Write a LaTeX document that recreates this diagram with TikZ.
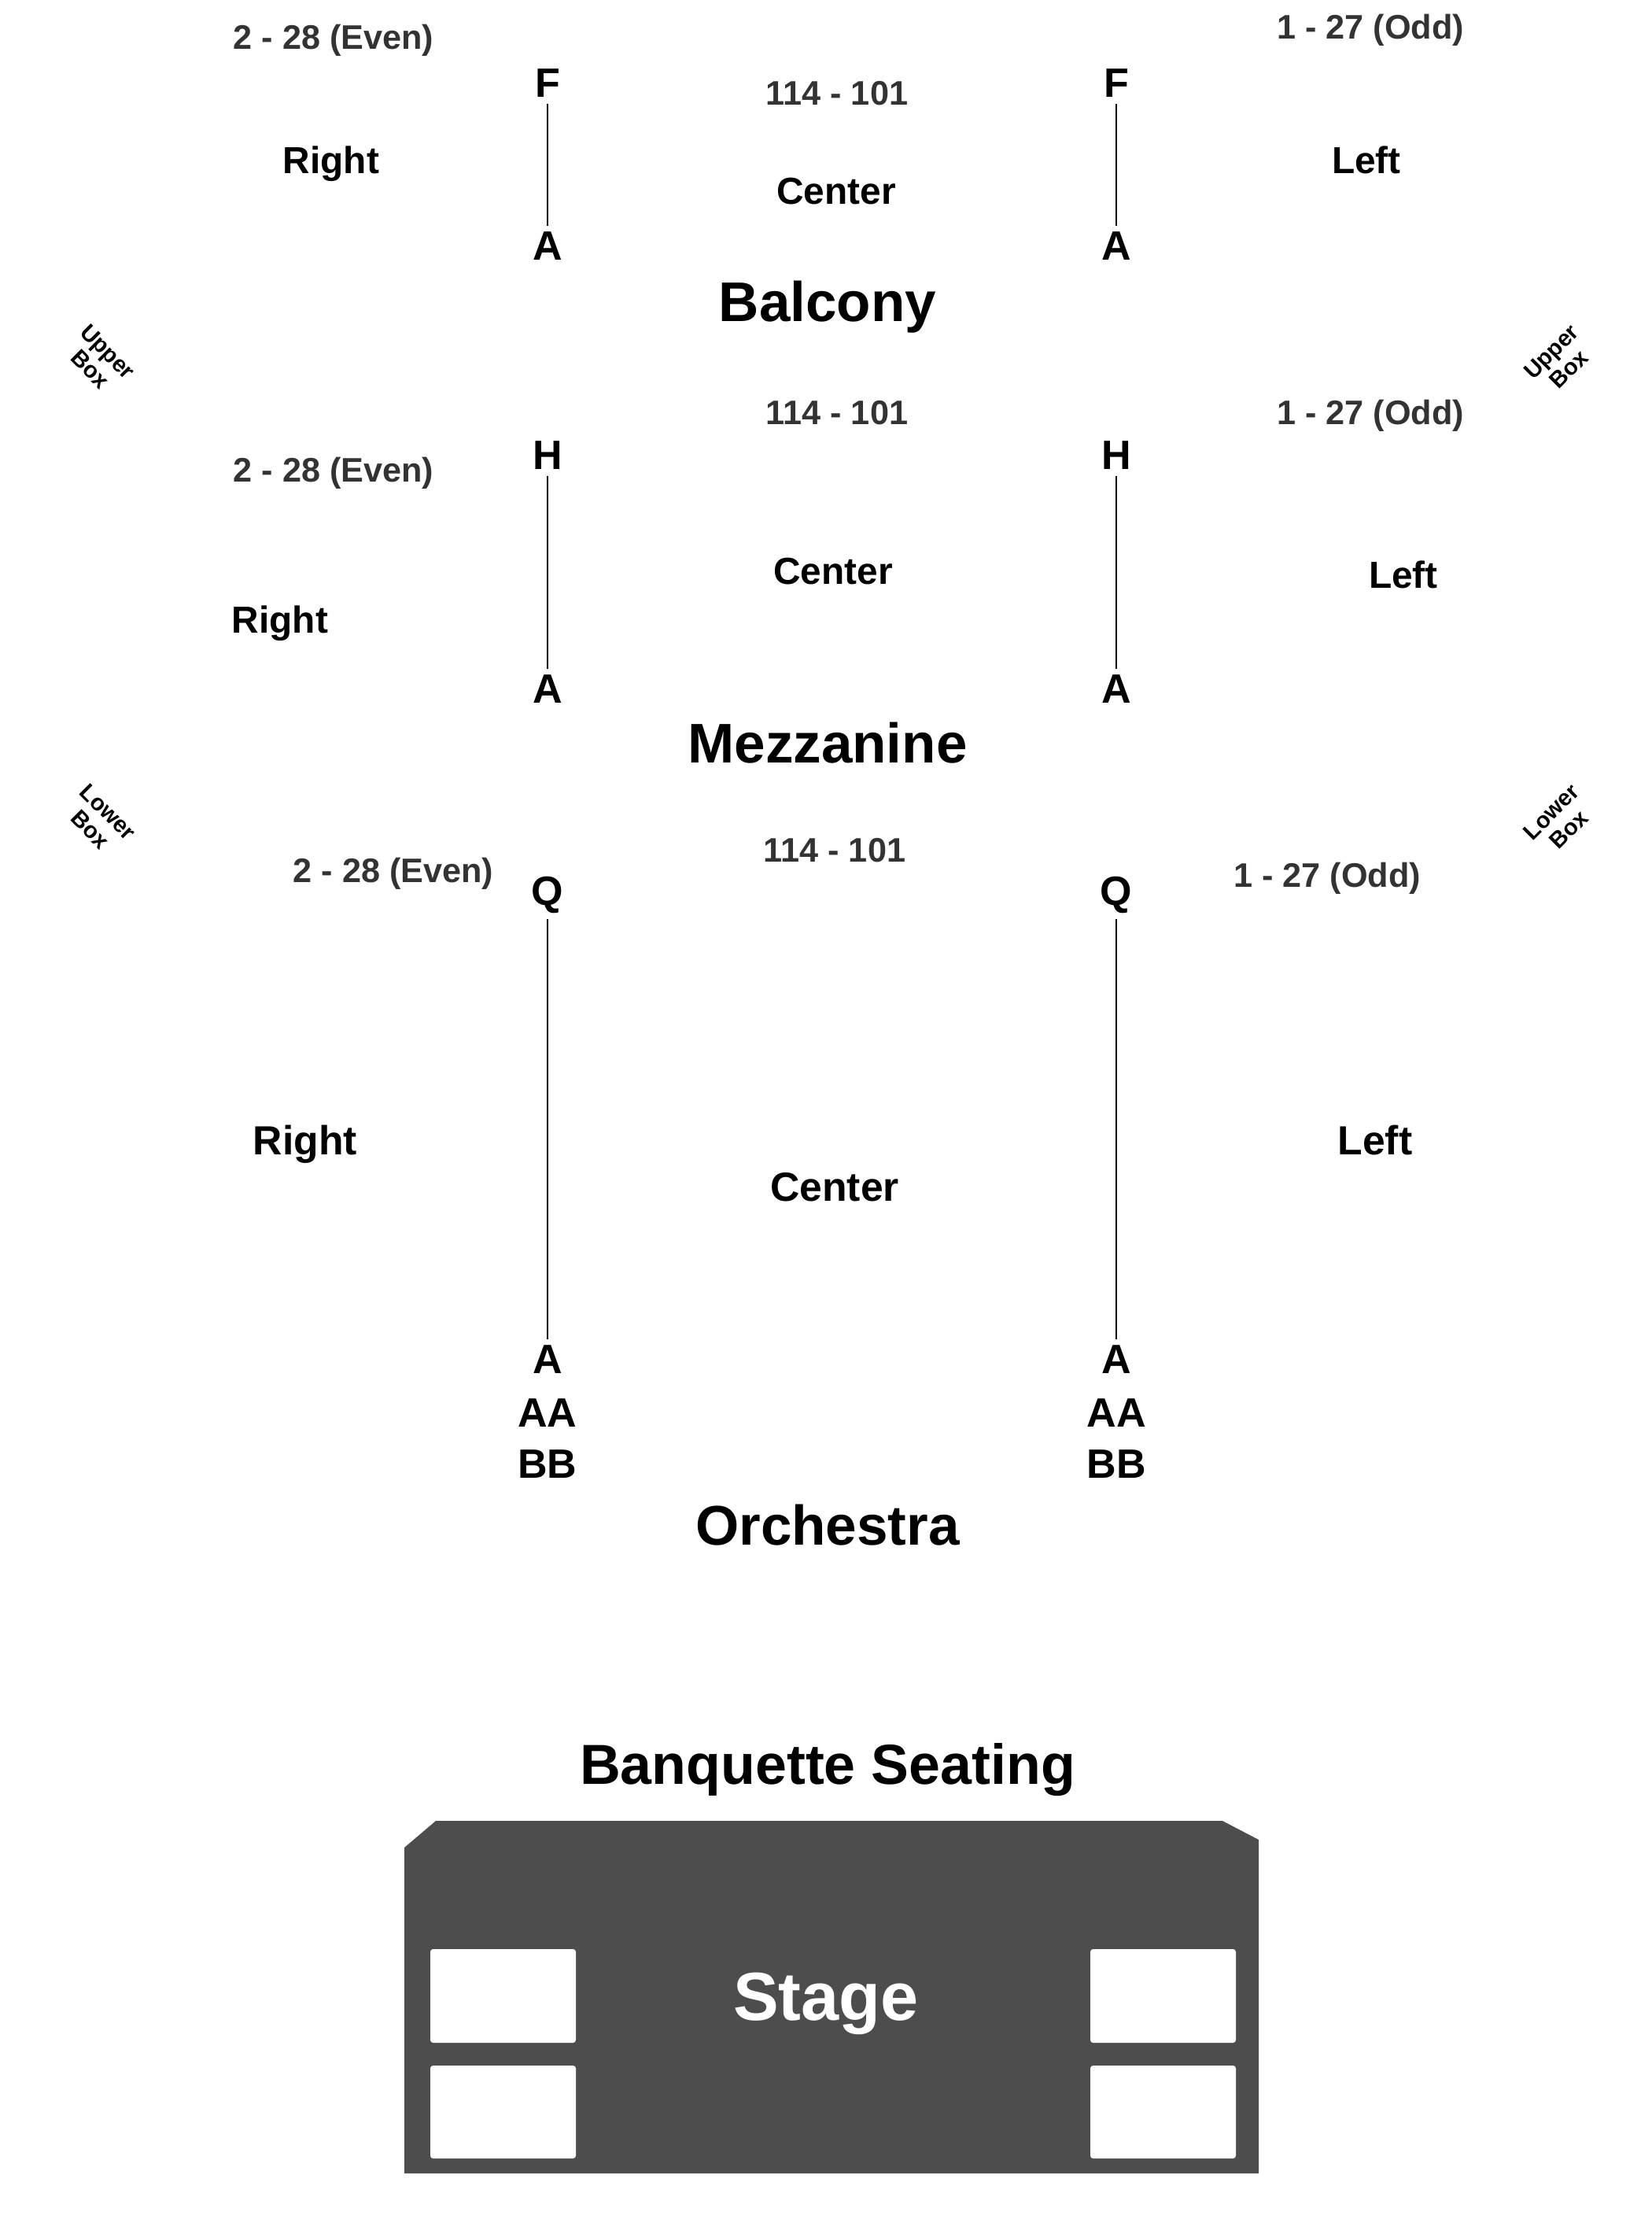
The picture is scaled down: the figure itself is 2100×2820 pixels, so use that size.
\documentclass[tikz,border=0pt]{standalone}
\usepackage{fontspec}
\setmainfont{Liberation Sans}
\usepackage{xcolor}
\usetikzlibrary{positioning}

\definecolor{stagegray}{HTML}{4D4D4D}
\definecolor{rangegray}{HTML}{333333}

\begin{document}
\begin{tikzpicture}[
  x=0.01cm, y=-0.01cm,
  sectlbl/.style ={font=\fontsize{20.2}{24}\selectfont\bfseries},
  sidelbl/.style ={font=\fontsize{13.6}{16}\selectfont\bfseries},
  bigside/.style ={font=\fontsize{14.7}{17}\selectfont\bfseries},
  rowlbl/.style  ={font=\fontsize{14.8}{17}\selectfont\bfseries, inner sep=2pt},
  seatrange/.style={font=\fontsize{12.3}{15}\selectfont\bfseries, text=rangegray},
  boxlbl/.style  ={font=\fontsize{8.3}{9}\selectfont\bfseries, align=center},
  rowline/.style ={line width=0.6pt, black},
]
\useasboundingbox (0,0) rectangle (2100,2820);

% Balcony
\node[seatrange] (evB)  at (424,51)    {2 - 28 (Even)};
\node[seatrange] (odB)  at (1742,38)   {1 - 27 (Odd)};
\node[seatrange] (ctB)  at (1064,119)  {114 - 101};
\node[rowlbl]  (fL)   at (696,106)   {F};
\node[rowlbl]  (fR)   at (1419,106)  {F};
\node[rowlbl]  (aBL)  at (696,313)   {A};
\node[rowlbl]  (aBR)  at (1419,313)  {A};
\node[sidelbl] (rB)   at (421,208)   {Right};
\node[sidelbl] (lB)   at (1737,203)  {Left};
\node[sidelbl] (cB)   at (1063,243)  {Center};
\node[sectlbl] (balc) at (1052,390)  {Balcony};
\draw[rowline] (fL) -- (aBL);
\draw[rowline] (fR) -- (aBR);

\node[boxlbl, rotate=-45] (ubL) at (126,458)  {Upper\\Box};
\node[boxlbl, rotate=45]  (ubR) at (1983,458) {Upper\\Box};

% Mezzanine
\node[seatrange] (ctM)  at (1064,525)  {114 - 101};
\node[seatrange] (odM)  at (1742,528)  {1 - 27 (Odd)};
\node[seatrange] (evM)  at (424,601)   {2 - 28 (Even)};
\node[rowlbl]  (hL)   at (696,579)   {H};
\node[rowlbl]  (hR)   at (1419,579)  {H};
\node[rowlbl]  (aML)  at (696,876)   {A};
\node[rowlbl]  (aMR)  at (1419,876)  {A};
\node[sidelbl] (cM)   at (1059,726)  {Center};
\node[sidelbl] (lM)   at (1784,730)  {Left};
\node[sidelbl] (rM)   at (356,792)   {Right};
\node[sectlbl] (mezz) at (1052,944)  {Mezzanine};
\draw[rowline] (hL) -- (aML);
\draw[rowline] (hR) -- (aMR);

\node[boxlbl, rotate=-45] (lbL) at (126,1043)  {Lower\\Box};
\node[boxlbl, rotate=45]  (lbR) at (1983,1043) {Lower\\Box};

% Orchestra
\node[seatrange] (ctO)  at (1061,1081) {114 - 101};
\node[seatrange] (evO)  at (500,1110)  {2 - 28 (Even)};
\node[seatrange] (odO)  at (1687,1116) {1 - 27 (Odd)};
\node[rowlbl]  (qL)   at (696,1137)  {Q};
\node[rowlbl]  (qR)   at (1419,1137) {Q};
\node[rowlbl]  (aOL)  at (696,1728)  {A};
\node[rowlbl]  (aOR)  at (1419,1728) {A};
\node[rowlbl]  (aaL)  at (696,1796)  {AA};
\node[rowlbl]  (aaR)  at (1419,1796) {AA};
\node[rowlbl]  (bbL)  at (696,1861)  {BB};
\node[rowlbl]  (bbR)  at (1419,1861) {BB};
\node[bigside] (rO)   at (388,1454)  {Right};
\node[bigside] (lO)   at (1748,1449) {Left};
\node[bigside] (cO)   at (1061,1509) {Center};
\node[sectlbl] (orch) at (1052,1938) {Orchestra};
\draw[rowline] (qL) -- (aOL);
\draw[rowline] (qR) -- (aOR);

% stage
\node[font=\fontsize{20.4}{24}\selectfont\bfseries] (banq) at (1052,2249) {Banquette Seating};
\fill[stagegray] (514,2762) -- (514,2348) -- (554,2314) -- (1554,2314)
  -- (1600,2338) -- (1600,2762) -- cycle;
\fill[white, rounded corners=1pt] (547,2477) rectangle (732,2596);
\fill[white, rounded corners=1pt] (547,2625) rectangle (732,2743);
\fill[white, rounded corners=1pt] (1386,2477) rectangle (1571,2596);
\fill[white, rounded corners=1pt] (1386,2625) rectangle (1571,2743);
\node[font=\fontsize{24.6}{29}\selectfont\bfseries, text=white] (stage) at (1050,2546) {Stage};
\end{tikzpicture}
\end{document}
